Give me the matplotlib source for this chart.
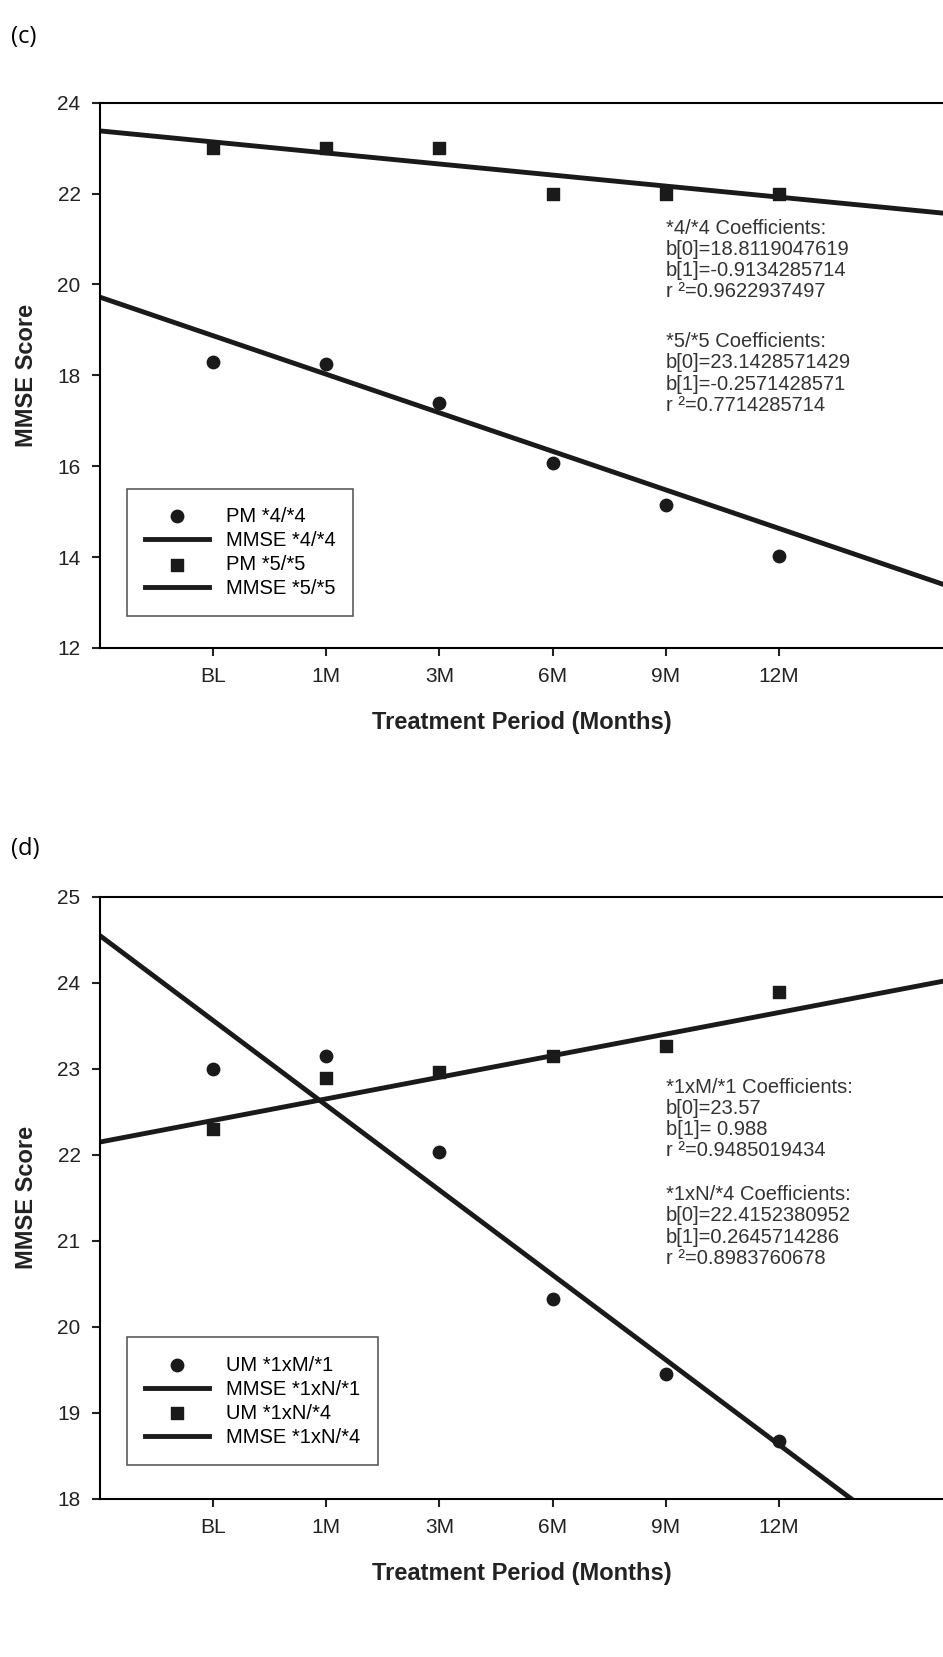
import matplotlib.pyplot as plt

plt.rcParams['font.family'] = ['Liberation Sans', 'DejaVu Sans']

periods = ["BL", "1M", "3M", "6M", "9M", "12M"]
xpos = [1, 2, 3, 4, 5, 6]

# panel (c)
c_pm44 = [18.3, 18.25, 17.4, 16.08, 15.15, 14.03]
c_pm55 = [23.0, 23.0, 23.0, 22.0, 22.0, 22.0]
c_fit_x = [0, 7.45]
c_fit44 = [19.72, 13.4]
c_fit55 = [23.38, 21.57]
c_text = ("*4/*4 Coefficients:\nb[0]=18.8119047619\nb[1]=-0.9134285714\nr \u00b2=0.9622937497",
          "*5/*5 Coefficients:\nb[0]=23.1428571429\nb[1]=-0.2571428571\nr \u00b2=0.7714285714")

# panel (d)
d_um1 = [23.0, 23.15, 22.03, 20.33, 19.45, 18.67]
d_um4 = [22.3, 22.9, 22.97, 23.15, 23.27, 23.9]
d_fit1_x = [0, 6.64]
d_fit1 = [24.55, 18.0]
d_fit4_x = [0, 7.45]
d_fit4 = [22.15, 24.02]
d_text = ("*1xM/*1 Coefficients:\nb[0]=23.57\nb[1]= 0.988\nr \u00b2=0.9485019434",
          "*1xN/*4 Coefficients:\nb[0]=22.4152380952\nb[1]=0.2645714286\nr \u00b2=0.8983760678")

fig = plt.figure(figsize=(9.43, 16.57), dpi=100)


def panel(rect, circ, sq, fx1, fy1, fx2, fy2, ylim, labels, texts, tx, ty1, ty2):
    ax = fig.add_axes(rect)
    ax.scatter(xpos, circ, marker='o', s=80, color='#1a1a1a', zorder=3, label=labels[0])
    ax.plot(fx1, fy1, color='#1a1a1a', lw=3.5, label=labels[1])
    ax.scatter(xpos, sq, marker='s', s=80, color='#1a1a1a', zorder=3, label=labels[2])
    ax.plot(fx2, fy2, color='#1a1a1a', lw=3.5, label=labels[3])
    ax.set_xlim(0, 7.45)
    ax.set_ylim(*ylim)
    ax.set_xticks(xpos)
    ax.set_xticklabels(periods)
    ax.spines['right'].set_visible(False)
    for s in ('left', 'bottom', 'top'):
        ax.spines[s].set_linewidth(1.5)
    ax.tick_params(labelsize=15, width=1.5, length=6, colors='#222222', pad=8)
    ax.set_xlabel("Treatment Period (Months)", fontsize=17, fontweight='bold', labelpad=18, color='#222222')
    ax.set_ylabel("MMSE Score", fontsize=17, fontweight='bold', labelpad=14, color='#222222')
    ax.text(tx, ty1, texts[0], fontsize=14.5, color='#333333', va='top', linespacing=1.15)
    ax.text(tx, ty2, texts[1], fontsize=14.5, color='#333333', va='top', linespacing=1.15)
    leg = ax.legend(loc='lower left', bbox_to_anchor=(0.02, 0.04), fontsize=14.5, frameon=True,
                    fancybox=False, edgecolor='#333333', handlelength=3.2, borderpad=0.9,
                    labelspacing=0.25, scatterpoints=1)
    leg.get_frame().set_linewidth(1.2)
    return ax


panel([0.106, 0.609, 0.894, 0.329], c_pm44, c_pm55, c_fit_x, c_fit44, c_fit_x, c_fit55,
      (12, 24), ["PM *4/*4", "MMSE *4/*4", "PM *5/*5", "MMSE *5/*5"], c_text, 5.0, 21.45, 18.95)
panel([0.106, 0.0954, 0.894, 0.3633], d_um1, d_um4, d_fit1_x, d_fit1, d_fit4_x, d_fit4,
      (18, 25), ["UM *1xM/*1", "MMSE *1xN/*1", "UM *1xN/*4", "MMSE *1xN/*4"], d_text, 5.0, 22.9, 21.65)

fig.text(0.012, 0.985, "(c)", fontsize=17, va='top', family=['Open Sans', 'DejaVu Sans'])
fig.text(0.012, 0.495, "(d)", fontsize=17, va='top', family=['Open Sans', 'DejaVu Sans'])

fig.savefig("out.png", dpi=100)
